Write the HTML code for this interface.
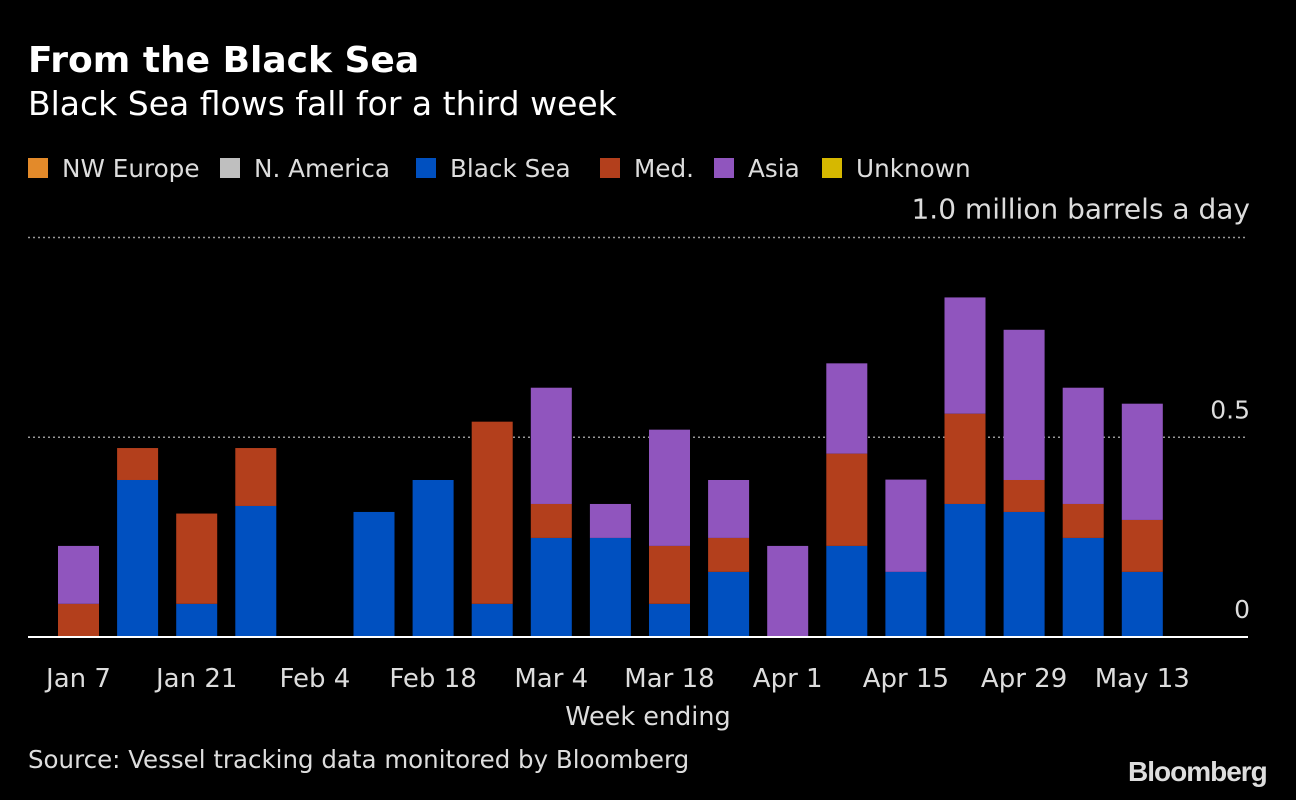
<!DOCTYPE html>
<html><head><meta charset="utf-8"><style>
html,body{margin:0;padding:0;background:#000;}
body{width:1296px;height:800px;overflow:hidden;font-family:"DejaVu Sans",sans-serif;color:#fff;position:relative;}
.t{position:absolute;white-space:nowrap;}
</style></head><body>
<div class="t" style="left:28px;top:40px;font-size:36px;font-weight:bold;">From the Black Sea</div>
<div class="t" style="left:28px;top:84px;font-size:33px;">Black Sea flows fall for a third week</div>
<div class="t" style="left:28px;top:745px;font-size:24.5px;color:#ddd;">Source: Vessel tracking data monitored by Bloomberg</div>
<div class="t" style="left:1128px;top:756px;font-size:28px;font-family:'Liberation Sans',sans-serif;font-weight:bold;letter-spacing:-1px;color:#ddd;">Bloomberg</div>
<svg id="chart" width="1296" height="800" style="position:absolute;left:0;top:0;font-family:'DejaVu Sans',sans-serif;"></svg>
<script>
const categories=["Jan 7","Jan 14","Jan 21","Jan 28","Feb 4","Feb 11","Feb 18","Feb 25","Mar 4","Mar 11","Mar 18","Mar 25","Apr 1","Apr 8","Apr 15","Apr 22","Apr 29","May 6","May 13"];
const blackSea=[0,0.393,0.083,0.328,0,0.313,0.393,0.083,0.248,0.248,0.083,0.163,0,0.228,0.163,0.333,0.313,0.248,0.163];
const med=[0.083,0.08,0.226,0.145,0,0,0,0.456,0.085,0,0.145,0.085,0,0.231,0,0.226,0.08,0.085,0.13];
const asia=[0.145,0,0,0,0,0,0,0,0.291,0.085,0.291,0.145,0.228,0.226,0.231,0.291,0.376,0.291,0.291];
const yTicks=[0,0.5,1.0];
const yTickLabels=["0","0.5","1.0 million barrels a day"];
const xTickLabels=["Jan 7","Jan 21","Feb 4","Feb 18","Mar 4","Mar 18","Apr 1","Apr 15","Apr 29","May 13"];
const legendNames=["NW Europe","N. America","Black Sea","Med.","Asia","Unknown"];
const legendColors=["#e38a2a","#bfbfbf","#0050c0","#b33f1c","#9055be","#d6b800"];
const legendX=[28,220,416,600,714,822];

const svg=document.getElementById('chart');
const NS='http://www.w3.org/2000/svg';
const y=v=>637-v*399.5;
const x=i=>58+i*59.1;
const bw=41;
function mk(tag,at){const e=document.createElementNS(NS,tag);for(const k in at)e.setAttribute(k,at[k]);svg.appendChild(e);return e;}

legendNames.forEach((n,i)=>{
  const r=mk('rect',{x:legendX[i],y:158,width:20,height:20,fill:legendColors[i]});
  
  
  const t=mk('text',{x:legendX[i]+34,y:177,fill:'#ddd','font-size':24.7});
  t.textContent=n;
  
  
});

yTicks.forEach((v,i)=>{
  if(v>0){const g=mk('line',{x1:28,x2:1248,y1:y(v),y2:y(v),stroke:'#999','stroke-width':1.5,'stroke-dasharray':'2,3'});
  
  }
  const t=mk('text',{x:1250,y:y(v)-19,fill:'#ddd','font-size':v===1?28:25,'text-anchor':'end'});
  t.textContent=yTickLabels[i];
  
  
});

const series=[[blackSea,'#0050c0','black-sea'],[med,'#b33f1c','med'],[asia,'#9055be','asia']];
categories.forEach((c,i)=>{
  let base=0;
  series.forEach(s=>{
    const v=s[0][i];
    if(v>0){
      const r=mk('rect',{x:x(i),y:y(base+v),width:bw,height:y(base)-y(base+v),fill:s[1]});
      
      
    }
    base+=v;
  });
});

const base=mk('line',{x1:28,x2:1248,y1:637,y2:637,stroke:'#fff','stroke-width':2});



xTickLabels.forEach(l=>{
  const i=categories.indexOf(l);
  const t=mk('text',{x:x(i)+bw/2,y:687,fill:'#ddd','font-size':26,'text-anchor':'middle'});
  t.textContent=l;
  
  
});
const xt=mk('text',{x:648,y:725,fill:'#ddd','font-size':25.5,'text-anchor':'middle'});
xt.textContent='Week ending';


</script>
</body></html>
